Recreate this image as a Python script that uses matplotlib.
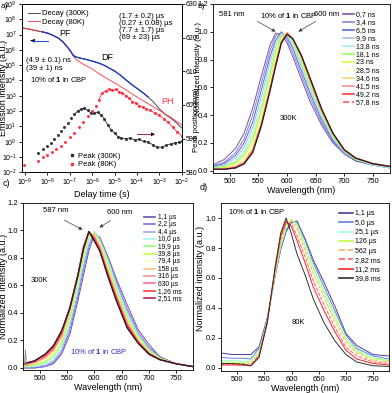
import numpy as np
import matplotlib
matplotlib.use('Agg')
import matplotlib.pyplot as plt
from matplotlib.ticker import NullLocator, FuncFormatter

plt.rcParams['font.family'] = ['Liberation Sans', 'DejaVu Sans']
plt.rcParams['mathtext.fontset'] = 'custom'
plt.rcParams['mathtext.rm'] = 'Liberation Sans'
plt.rcParams['mathtext.bf'] = 'Liberation Sans:bold'
plt.rcParams['axes.linewidth'] = 0.6
plt.rcParams['xtick.major.width'] = 0.6
plt.rcParams['ytick.major.width'] = 0.6
plt.rcParams['xtick.major.size'] = 2
plt.rcParams['ytick.major.size'] = 2
plt.rcParams['xtick.labelsize'] = 5.5
plt.rcParams['ytick.labelsize'] = 5.5
plt.rcParams['xtick.major.pad'] = 1.5
plt.rcParams['ytick.major.pad'] = 1.5

# ---- panel a: decays (log10 of time, log10 of intensity) ----
decay_logt = [-9.15, -9.0, -8.75, -8.5, -8.25, -8.0, -7.75, -7.5, -7.3, -7.1, -6.95, -6.85,
              -6.75, -6.5, -6.25, -6.0, -5.75, -5.5, -5.25, -5.0, -4.75, -4.5, -4.25, -4.0,
              -3.75, -3.5, -3.25, -3.0, -2.75, -2.5, -2.25, -2.0]
decay_300k = [7.42, 7.40, 7.33, 7.25, 7.18, 7.10, 6.95, 6.76, 6.52, 6.18, 5.88, 5.65,
              5.55, 5.45, 5.37, 5.27, 5.16, 5.02, 4.82, 4.62, 4.36, 4.05, 3.75, 3.49,
              3.22, 2.92, 2.58, 2.15, 1.80, 1.55, 1.25, 0.90]
decay_80k = [7.45, 7.42, 7.35, 7.27, 7.20, 7.10, 6.95, 6.75, 6.50, 6.15, 5.85, 5.60,
             5.42, 5.15, 4.95, 4.75, 4.50, 4.27, 4.05, 3.85, 3.62, 3.40, 3.15, 2.92,
             2.70, 2.48, 2.27, 2.05, 1.82, 1.60, 1.35, 1.10]

peak300_logt = [-8.4, -8.2, -8.0, -7.85, -7.7, -7.55, -7.4, -7.25, -7.1, -6.95, -6.8, -6.65,
                -6.5, -6.35, -6.2, -6.05, -5.9, -5.75, -5.6, -5.45, -5.3, -5.15, -5.0, -4.85,
                -4.7, -4.5, -4.3, -4.1, -3.9, -3.7, -3.5, -3.3, -3.1, -2.9, -2.7, -2.5, -2.3,
                -2.1, -2.0]
peak300_nm = [585.8, 586.8, 587.8, 588.8, 589.8, 591.0, 592.2, 593.4, 594.6, 596.0, 597.2, 598.2,
              598.8, 599.0, 598.4, 597.6, 597.6, 597.8, 597.0, 595.8, 594.0, 592.6, 591.6, 590.6,
              590.2, 590.0, 590.2, 589.6, 589.8, 589.2, 589.0, 588.2, 587.4, 587.5, 588.0, 588.4,
              588.8, 589.0, 589.2]
peak80_logt = [-9.05, -8.4, -8.2, -8.0, -7.8, -7.6, -7.4, -7.2, -7.0, -6.8, -6.6, -6.4, -6.2,
               -6.0, -5.85, -5.7, -5.55, -5.4, -5.25, -5.1, -4.95, -4.8, -4.65, -4.5, -4.35,
               -4.2, -4.05, -3.9, -3.75, -3.6, -3.4, -3.2, -3.0, -2.8, -2.6, -2.4, -2.2, -2.0]
peak80_nm = [582.2, 583.4, 584.4, 585.2, 586.0, 586.9, 587.8, 589.0, 590.4, 591.8, 593.4, 595.0,
             596.6, 598.2, 599.6, 601.6, 603.6, 604.2, 604.6, 604.4, 604.6, 604.0, 603.6, 602.8,
             602.2, 601.0, 600.6, 599.8, 599.4, 598.8, 598.4, 597.6, 597.0, 595.8, 594.8, 593.4,
             592.0, 590.8]
n_sparse_300 = 11
n_sparse_80 = 16

# ---- spectra, common wavelength grid ----
wl = [470, 490, 510, 525, 540, 555, 570, 580, 590, 600, 610, 625, 640, 660, 680, 700, 720, 750, 780]

b_labels = ['0,7 ns', '3,4 ns', '6,5 ns', '9,9 ns', '13,8 ns', '18,1 ns', '23 ns', '28,5 ns',
            '34,6 ns', '41,5 ns', '49,2 ns', '57,8 ns']
b_colors = ['#7b52a8', '#8b7fd8', '#4f68d8', '#a8c0e8', '#a0f0e0', '#90ff50', '#d0ff40', '#ffff60',
            '#ffd070', '#ff9090', '#ff4040', '#ff6060']
b_styles = ['-', '-', '-', '-', '-', '-', '-', ':', '-', '-', '-', '--']
b_spectra = [
    [0.04, 0.08, 0.16, 0.27, 0.45, 0.68, 0.90, 0.99, 0.98, 0.92, 0.82, 0.66, 0.50, 0.33, 0.20, 0.12, 0.07, 0.04, 0.02],
    [0.03, 0.06, 0.13, 0.23, 0.40, 0.63, 0.86, 0.97, 0.99, 0.94, 0.85, 0.69, 0.53, 0.35, 0.21, 0.12, 0.07, 0.04, 0.02],
    [0.03, 0.05, 0.11, 0.20, 0.35, 0.58, 0.82, 0.94, 1.00, 0.96, 0.88, 0.72, 0.56, 0.37, 0.22, 0.13, 0.07, 0.04, 0.02],
    [0.02, 0.04, 0.09, 0.17, 0.31, 0.53, 0.78, 0.92, 0.99, 0.97, 0.90, 0.75, 0.58, 0.39, 0.23, 0.13, 0.08, 0.04, 0.02],
    [0.02, 0.03, 0.07, 0.14, 0.27, 0.48, 0.73, 0.89, 0.98, 0.98, 0.91, 0.77, 0.60, 0.40, 0.24, 0.14, 0.08, 0.04, 0.02],
    [0.02, 0.03, 0.06, 0.12, 0.23, 0.44, 0.69, 0.86, 0.97, 0.99, 0.93, 0.79, 0.62, 0.42, 0.25, 0.14, 0.08, 0.05, 0.03],
    [0.01, 0.02, 0.05, 0.10, 0.20, 0.40, 0.65, 0.83, 0.96, 0.99, 0.94, 0.80, 0.64, 0.43, 0.26, 0.15, 0.09, 0.05, 0.03],
    [0.01, 0.02, 0.04, 0.08, 0.18, 0.37, 0.62, 0.80, 0.94, 1.00, 0.95, 0.81, 0.65, 0.44, 0.27, 0.15, 0.09, 0.05, 0.03],
    [0.01, 0.02, 0.03, 0.07, 0.16, 0.35, 0.60, 0.78, 0.93, 0.99, 0.95, 0.82, 0.65, 0.44, 0.27, 0.15, 0.09, 0.05, 0.03],
    [0.01, 0.01, 0.03, 0.06, 0.15, 0.34, 0.59, 0.77, 0.93, 0.99, 0.95, 0.82, 0.66, 0.44, 0.27, 0.15, 0.09, 0.05, 0.03],
    [0.01, 0.01, 0.02, 0.05, 0.14, 0.33, 0.58, 0.76, 0.92, 0.99, 0.95, 0.83, 0.66, 0.44, 0.27, 0.15, 0.09, 0.05, 0.03],
    [0.01, 0.01, 0.02, 0.05, 0.14, 0.33, 0.58, 0.76, 0.92, 0.99, 0.95, 0.83, 0.66, 0.44, 0.27, 0.15, 0.09, 0.05, 0.03],
]
b_black = [0.01, 0.01, 0.02, 0.05, 0.13, 0.32, 0.57, 0.75, 0.92, 0.98, 0.95, 0.83, 0.67, 0.45, 0.27, 0.15, 0.09, 0.05, 0.03]

c_labels = ['1,1 µs', '2,2 µs', '4,4 µs', '10,0 µs', '19,9 µs', '39,8 µs', '79,4 µs', '158 µs',
            '316 µs', '630 µs', '1,26 ms', '2,51 ms']
c_colors = ['#6a50b0', '#8070e0', '#9aa8e8', '#a0f8f0', '#90ff70', '#c8ff40', '#ffff80', '#ffc080',
            '#ff9090', '#ff7090', '#ff4040', '#c02050']
c_styles = ['-', '-', '-', '-', '-', '-', ':', '-', '-', '-', '-', '-']
c_spectra = [
    [0.00, 0.00, 0.01, 0.03, 0.10, 0.24, 0.49, 0.67, 0.85, 0.97, 0.95, 0.81, 0.65, 0.46, 0.28, 0.17, 0.08, 0.03, 0.01],
    [0.00, 0.00, 0.01, 0.04, 0.11, 0.27, 0.52, 0.71, 0.88, 0.98, 0.94, 0.80, 0.63, 0.43, 0.26, 0.15, 0.08, 0.03, 0.01],
    [0.00, 0.01, 0.02, 0.05, 0.13, 0.30, 0.55, 0.74, 0.90, 0.99, 0.94, 0.79, 0.62, 0.41, 0.25, 0.14, 0.07, 0.03, 0.01],
    [0.01, 0.01, 0.03, 0.06, 0.15, 0.33, 0.59, 0.77, 0.93, 0.99, 0.93, 0.78, 0.60, 0.39, 0.24, 0.13, 0.07, 0.03, 0.01],
    [0.01, 0.02, 0.04, 0.08, 0.17, 0.36, 0.62, 0.80, 0.95, 0.98, 0.92, 0.76, 0.58, 0.37, 0.23, 0.13, 0.07, 0.03, 0.01],
    [0.01, 0.02, 0.05, 0.10, 0.19, 0.38, 0.64, 0.82, 0.96, 0.98, 0.91, 0.74, 0.56, 0.36, 0.22, 0.12, 0.07, 0.03, 0.01],
    [0.02, 0.03, 0.06, 0.11, 0.21, 0.40, 0.65, 0.84, 0.97, 0.97, 0.90, 0.72, 0.55, 0.35, 0.21, 0.12, 0.06, 0.03, 0.01],
    [0.02, 0.03, 0.07, 0.12, 0.22, 0.41, 0.66, 0.85, 0.98, 0.96, 0.89, 0.71, 0.54, 0.34, 0.20, 0.11, 0.06, 0.03, 0.01],
    [0.02, 0.04, 0.08, 0.13, 0.23, 0.42, 0.67, 0.86, 0.98, 0.95, 0.88, 0.70, 0.53, 0.33, 0.20, 0.11, 0.06, 0.03, 0.01],
    [0.02, 0.04, 0.08, 0.14, 0.24, 0.43, 0.67, 0.87, 0.99, 0.95, 0.87, 0.69, 0.52, 0.32, 0.19, 0.11, 0.06, 0.03, 0.01],
    [0.03, 0.05, 0.09, 0.15, 0.25, 0.43, 0.68, 0.87, 0.99, 0.94, 0.86, 0.68, 0.51, 0.31, 0.19, 0.10, 0.06, 0.03, 0.01],
    [0.03, 0.05, 0.10, 0.16, 0.26, 0.44, 0.68, 0.88, 0.99, 0.93, 0.85, 0.67, 0.50, 0.30, 0.18, 0.10, 0.06, 0.03, 0.01],
]
c_black = [0.03, 0.05, 0.10, 0.16, 0.27, 0.43, 0.67, 0.86, 0.99, 0.92, 0.85, 0.66, 0.49, 0.29, 0.18, 0.10, 0.06, 0.03, 0.01]
c_spike_wl = [472, 474, 476]
c_spike = [0.02, 0.13, 0.02]

d_labels = ['1,1 µs', '5,0 µs', '25,1 µs', '126 µs', '562 µs', '2,82 ms', '11,2 ms', '39,8 ms']
d_colors = ['#4a3aa0', '#6080e0', '#a0ffe0', '#c0ff40', '#ffb060', '#ff6060', '#ff2020', '#303030']
d_styles = ['-', '-', '-', '-', '--', '--', '-', '-']
d_spectra = [
    [0.10, 0.09, 0.09, 0.09, 0.14, 0.33, 0.62, 0.79, 0.91, 0.97, 0.98, 0.86, 0.72, 0.57, 0.41, 0.23, 0.15, 0.09, 0.08],
    [0.07, 0.065, 0.065, 0.06, 0.13, 0.32, 0.62, 0.80, 0.92, 0.98, 0.97, 0.85, 0.70, 0.54, 0.38, 0.22, 0.13, 0.08, 0.06],
    [0.05, 0.05, 0.045, 0.045, 0.11, 0.31, 0.63, 0.81, 0.93, 0.99, 0.96, 0.83, 0.68, 0.52, 0.36, 0.20, 0.12, 0.07, 0.05],
    [0.04, 0.04, 0.035, 0.035, 0.10, 0.31, 0.64, 0.83, 0.95, 0.99, 0.95, 0.81, 0.66, 0.50, 0.34, 0.19, 0.11, 0.06, 0.05],
    [0.03, 0.03, 0.03, 0.025, 0.09, 0.30, 0.65, 0.85, 0.96, 0.98, 0.93, 0.78, 0.63, 0.47, 0.31, 0.17, 0.10, 0.05, 0.04],
    [0.025, 0.025, 0.02, 0.02, 0.08, 0.30, 0.66, 0.87, 0.97, 0.96, 0.88, 0.74, 0.58, 0.42, 0.27, 0.14, 0.08, 0.04, 0.03],
    [0.02, 0.02, 0.02, 0.015, 0.08, 0.30, 0.67, 0.88, 0.98, 0.94, 0.85, 0.70, 0.54, 0.38, 0.24, 0.12, 0.06, 0.03, 0.02],
    [0.03, 0.03, 0.025, 0.015, 0.07, 0.30, 0.68, 0.90, 1.00, 0.89, 0.76, 0.62, 0.46, 0.30, 0.18, 0.09, 0.04, 0.015, 0.01],
]

W, H = 392, 393


def fx(x):
    return x / W


def fy(y):
    return 1 - y / H


def pow10(v, pos):
    return r'$10^{%d}$' % int(round(np.log10(v)))


fig = plt.figure(figsize=(3.92, 3.93), dpi=100)

# ================= a =================
ax = fig.add_axes([fx(21.7), fy(172.3), fx(160), 168.3 / H])
t = 10 ** np.array(decay_logt)
ax.plot(t, 10 ** np.array(decay_300k), color='#303030', lw=0.6, label='Decay (300K)')
ax.plot(t, 10 ** np.array(decay_80k), color='#ff3040', lw=0.6, label='Decay (80K)')
ax.plot(t[4:26], 10 ** np.array(decay_300k[4:26]), color='#2040c0', lw=1.0)
ax.set_xscale('log')
ax.set_yscale('log')
ax.set_xlim(10 ** -9.15, 1e-2)
ax.set_ylim(1e-2, 1e9)
ax.set_xticks([10.0 ** k for k in range(-9, -1)])
ax.set_yticks([10.0 ** k for k in range(-2, 10)])
ax.xaxis.set_major_formatter(FuncFormatter(pow10))
ax.yaxis.set_major_formatter(FuncFormatter(pow10))
ax.xaxis.set_minor_locator(NullLocator())
ax.yaxis.set_minor_locator(NullLocator())
ax.tick_params(labelsize=5)
ax.set_xlabel('Delay time (s)', fontsize=6.5, labelpad=1)
ax.set_ylabel('Emission intensity (a.u.)', fontsize=6.5)
ax.yaxis.set_label_coords(-0.085, 0.5)
ax.legend(loc='upper left', bbox_to_anchor=(0.0, 1.0), fontsize=5.5, frameon=False,
          handlelength=1.6, handletextpad=0.3, labelspacing=0.1, borderpad=0.3)

ax2 = ax.twinx()
tp3 = 10 ** np.array(peak300_logt)
tp8 = 10 ** np.array(peak80_logt)
ax2.plot(tp3, peak300_nm, 's', color='#303030', ms=1.0, label='Peak (300K)')
ax2.plot(tp3[n_sparse_300 - 1:], peak300_nm[n_sparse_300 - 1:], '-', color='#303030', lw=0.6)
ax2.plot(tp8, peak80_nm, 's', color='#ff3040', ms=1.0, label='Peak (80K)')
ax2.plot(tp8[n_sparse_80 - 1:], peak80_nm[n_sparse_80 - 1:], '-', color='#ff3040', lw=0.6)
ax2.set_ylim(580, 630)
ax2.set_yticks([580, 590, 600, 610, 620, 630])
ax2.tick_params(labelsize=5, pad=1)
ax2.legend(loc='upper left', bbox_to_anchor=(0.26, 0.15), fontsize=5.5, frameon=False,
           handlelength=0.8, handletextpad=0.4, labelspacing=0.15, borderpad=0.2, numpoints=1,
           markerscale=1.5)

fs = 5.5
fig.text(fx(65), fy(33), 'PF', fontsize=6.5, ha='center', va='center')
fig.text(fx(107), fy(57), 'DF', fontsize=6.5, ha='center', va='center')
fig.text(fx(168), fy(102), 'PH', fontsize=6.5, ha='center', va='center', color='#ff3040')
for yy, s in zip([16, 23.5, 31, 37.5], ['(1.7 ± 0.2) µs', '(0.27 ± 0.08) µs', '(7.7 ± 1.7) µs', '(69 ± 23) µs']):
    fig.text(fx(119), fy(yy), s, fontsize=fs, ha='left', va='center')
fig.text(fx(26), fy(61), '(4.9 ± 0.1) ns', fontsize=fs, ha='left', va='center')
fig.text(fx(26), fy(68), '(39 ± 1) ns', fontsize=fs, ha='left', va='center')
fig.text(fx(30), fy(80), r'10% of $\mathbf{1}$ in CBP', fontsize=fs, ha='left', va='center')
fig.add_artist(plt.Line2D([fx(32), fx(48)], [fy(40.7), fy(40.7)], color='#3050d0', lw=0.8))
ax.annotate('', xy=(fx(28), fy(40.7)), xytext=(fx(34), fy(40.7)), xycoords='figure fraction',
            arrowprops=dict(arrowstyle='-|>', color='k', lw=0.6, mutation_scale=5))
fig.add_artist(plt.Line2D([fx(136.7), fx(151)], [fy(134.3), fy(134.3)], color='#a02040', lw=0.7))
ax.annotate('', xy=(fx(155), fy(134.3)), xytext=(fx(150), fy(134.3)), xycoords='figure fraction',
            arrowprops=dict(arrowstyle='-|>', color='k', lw=0.6, mutation_scale=5))
fig.text(fx(0.5), fy(6), 'a)', fontsize=6, ha='left', va='center')
fig.text(fx(197), fy(120), 'Peak position (nm)', fontsize=5.5, ha='center', va='center', rotation=90)


def spectra_axes(rect, ylim, yticks):
    a = fig.add_axes(rect)
    a.set_xlim(470, 780)
    a.set_ylim(*ylim)
    a.set_xticks([500, 550, 600, 650, 700, 750])
    a.set_yticks(yticks)
    a.set_yticklabels(['%.1f' % v for v in yticks])
    a.set_xlabel('Wavelength (nm)', fontsize=6.5, labelpad=1)
    return a


# ================= b =================
axb = spectra_axes([fx(212.7), fy(172.7), fx(177.3), 168.7 / H], (-0.015, 1.2),
                   [0.0, 0.2, 0.4, 0.6, 0.8, 1.0, 1.2])
for i, (spec, lab, col, ls) in enumerate(zip(b_spectra, b_labels, b_colors, b_styles)):
    axb.plot(wl, spec, color=col, ls=ls, lw=0.9 if i >= 9 else 0.7, label=lab)
axb.plot(wl, b_black, color='#202020', lw=0.9)
axb.set_ylabel('Normalized intensity (a.u.)', fontsize=5.8)
axb.yaxis.set_label_coords(-0.062, 0.62)
leg = axb.legend(loc='upper left', bbox_to_anchor=(0.705, 0.985), fontsize=5, frameon=False,
                 handlelength=1.6, handletextpad=0.4, labelspacing=0.14, borderpad=0.2)
for h in leg.get_lines():
    h.set_linewidth(1.2)
fig.text(fx(232), fy(15), '581 nm', fontsize=fs, ha='center', va='center')
fig.text(fx(289), fy(15), r'10% of $\mathbf{1}$ in CBP', fontsize=fs, ha='center', va='center')
fig.text(fx(327), fy(15), '600 nm', fontsize=fs, ha='center', va='center')
fig.text(fx(288), fy(118), '300K', fontsize=fs, ha='center', va='center')
axb.annotate('', xy=(fx(278), fy(33)), xytext=(fx(255), fy(20)), xycoords='figure fraction',
             arrowprops=dict(arrowstyle='-|>', color='#404040', lw=0.5, mutation_scale=5))
axb.annotate('', xy=(fx(296), fy(33)), xytext=(fx(318), fy(20)), xycoords='figure fraction',
             arrowprops=dict(arrowstyle='-|>', color='#404040', lw=0.5, mutation_scale=5))
fig.text(fx(197), fy(6), 'b)', fontsize=6, ha='left', va='center')

# ================= c =================
axc = spectra_axes([fx(23.3), fy(370), fx(169.4), 167.3 / H], (-0.015, 1.2),
                   [0.0, 0.2, 0.4, 0.6, 0.8, 1.0, 1.2])
for i, (spec, lab, col, ls) in enumerate(zip(c_spectra, c_labels, c_colors, c_styles)):
    axc.plot(wl, spec, color=col, ls=ls, lw=0.9 if i >= 9 else 0.7, label=lab)
axc.plot(wl, c_black, color='#202020', lw=0.9)
axc.plot(c_spike_wl, c_spike, color='#909090', lw=0.7)
axc.set_ylabel('Normalized intensity (a.u.)', fontsize=6.5)
axc.yaxis.set_label_coords(-0.09, 0.5)
leg = axc.legend(loc='upper left', bbox_to_anchor=(0.685, 0.96), fontsize=4.8, frameon=False,
                 handlelength=1.7, handletextpad=0.4, labelspacing=0.06, borderpad=0.2)
for h in leg.get_lines():
    h.set_linewidth(1.2)
fig.text(fx(55.7), fy(211), '587 nm', fontsize=fs, ha='center', va='center')
fig.text(fx(120), fy(212), '600 nm', fontsize=fs, ha='center', va='center')
fig.text(fx(39), fy(281), '300K', fontsize=fs, ha='center', va='center')
fig.text(fx(99), fy(351), r'10% of $\mathbf{1}$ in CBP', fontsize=fs, ha='center', va='center',
         color='#3030c0')
axc.annotate('', xy=(fx(85), fy(231)), xytext=(fx(62), fy(219)), xycoords='figure fraction',
             arrowprops=dict(arrowstyle='-|>', color='#404040', lw=0.5, mutation_scale=5))
axc.annotate('', xy=(fx(97), fy(229)), xytext=(fx(113), fy(219)), xycoords='figure fraction',
             arrowprops=dict(arrowstyle='-|>', color='#404040', lw=0.5, mutation_scale=5))
fig.text(fx(3), fy(183), 'c)', fontsize=6.5, ha='left', va='center')

# ================= d =================
axd = spectra_axes([fx(221), fy(371), fx(168.3), 168 / H], (-0.02, 1.1),
                   [0.0, 0.2, 0.4, 0.6, 0.8, 1.0])
for spec, lab, col, ls in zip(d_spectra, d_labels, d_colors, d_styles):
    axd.plot(wl, spec, color=col, ls=ls, lw=0.7, label=lab)
axd.set_ylabel('Normalized intensity (a.u.)', fontsize=6.5)
axd.yaxis.set_label_coords(-0.095, 0.55)
leg = axd.legend(loc='upper left', bbox_to_anchor=(0.67, 0.985), fontsize=5, frameon=False,
                 handlelength=2.0, handletextpad=0.4, labelspacing=0.33, borderpad=0.2)
for h in leg.get_lines():
    h.set_linewidth(1.2)
fig.text(fx(228), fy(211), r'10% of $\mathbf{1}$ in CBP', fontsize=fs, ha='left', va='center')
fig.text(fx(298), fy(322), '80K', fontsize=fs, ha='center', va='center')
fig.text(fx(200), fy(187), 'd)', fontsize=6.5, ha='left', va='center')

fig.savefig('out.png', dpi=100)
